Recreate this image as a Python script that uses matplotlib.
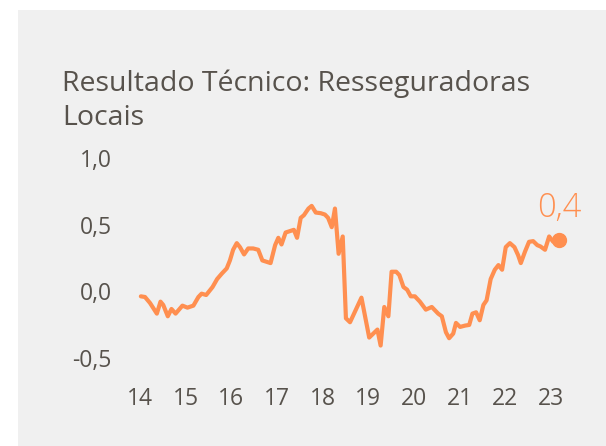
import matplotlib.pyplot as plt
from matplotlib.patches import Rectangle

# Resultado técnico, resseguradoras locais (decimal years, value)
years = [14.02, 14.11, 14.22, 14.37, 14.45, 14.51, 14.61, 14.69, 14.78, 14.93,
         15.04, 15.17, 15.28, 15.35, 15.45, 15.59, 15.69, 15.79, 15.90, 15.97,
         16.04, 16.12, 16.19, 16.28, 16.37, 16.48, 16.59, 16.68, 16.77, 16.86,
         16.96, 17.03, 17.10, 17.19, 17.28, 17.37, 17.44, 17.52, 17.59, 17.69,
         17.76, 17.85, 17.96, 18.05, 18.12, 18.20, 18.27, 18.35, 18.44, 18.51,
         18.60, 18.85, 19.02, 19.11, 19.20, 19.27, 19.35, 19.44, 19.51, 19.61,
         19.68, 19.77, 19.85, 19.93, 20.02, 20.13, 20.26, 20.39, 20.53, 20.61,
         20.70, 20.77, 20.86, 20.92, 21.01, 21.12, 21.21, 21.28, 21.36, 21.44,
         21.52, 21.59, 21.68, 21.77, 21.85, 21.93, 22.01, 22.10, 22.20, 22.28,
         22.34, 22.43, 22.52, 22.61, 22.70, 22.77, 22.87, 22.96, 23.05, 23.18]
values = [-0.04, -0.045, -0.09, -0.17, -0.08, -0.105, -0.19, -0.135, -0.17, -0.11,
          -0.125, -0.11, -0.045, -0.02, -0.03, 0.03, 0.09, 0.13, 0.17, 0.23,
          0.31, 0.36, 0.33, 0.275, 0.32, 0.32, 0.31, 0.23, 0.22, 0.21,
          0.345, 0.40, 0.35, 0.44, 0.45, 0.46, 0.40, 0.55, 0.57, 0.62,
          0.64, 0.59, 0.585, 0.575, 0.55, 0.48, 0.62, 0.28, 0.41, -0.205,
          -0.235, -0.05, -0.35, -0.32, -0.29, -0.41, -0.12, -0.19, 0.145, 0.145,
          0.12, 0.03, 0.01, -0.04, -0.04, -0.08, -0.14, -0.12, -0.17, -0.19,
          -0.31, -0.355, -0.32, -0.24, -0.27, -0.26, -0.255, -0.17, -0.16, -0.22,
          -0.105, -0.07, 0.09, 0.16, 0.195, 0.16, 0.33, 0.36, 0.33, 0.27,
          0.21, 0.295, 0.37, 0.375, 0.345, 0.335, 0.31, 0.41, 0.37, 0.38]

x_ticks = [14, 15, 16, 17, 18, 19, 20, 21, 22, 23]
y_ticks = [-0.5, 0.0, 0.5, 1.0]
y_labels = ["-0,5", "0,0", "0,5", "1,0"]

title = "Resultado Técnico: Resseguradoras\nLocais"
last_label = "0,4"

orange = "#ff8f50"
text_grey = "#57524c"
panel = "#f0f0f0"

plt.rcParams['font.family'] = ['Open Sans', 'DejaVu Sans']

fig = plt.figure(figsize=(6.06, 4.46), dpi=100)
fig.patch.set_facecolor("white")
fig.patches.append(Rectangle((18 / 606, 0), 1 - 18 / 606, 1 - 10 / 446,
                             transform=fig.transFigure, facecolor=panel,
                             edgecolor="none", zorder=-5))

ax = fig.add_axes([0.2008, 0.1686, 0.7536, 0.492])
ax.set_zorder(2)
ax.set_facecolor("none")
ax.plot(years, values, color=orange, linewidth=3, solid_joinstyle="round",
        solid_capstyle="round", zorder=3)
ax.plot(years[-1], values[-1], "o", color=orange, markersize=10, zorder=4)
ax.annotate(last_label, (years[-1], values[-1]), xytext=(0, 11),
            textcoords="offset points", ha="center", va="bottom",
            fontsize=23.5, color=orange, fontweight="light")

ax.set_xlim(13.6, 23.6)
ax.set_ylim(-0.6, 1.05)
ax.set_xticks(x_ticks)
ax.set_xticklabels([str(v) for v in x_ticks])
ax.set_yticks(y_ticks)
ax.set_yticklabels(y_labels)
ax.tick_params(axis="both", length=0, labelsize=16.5, colors=text_grey)
ax.tick_params(axis="x", pad=12)
ax.tick_params(axis="y", pad=7)
for s in ax.spines.values():
    s.set_visible(False)

fig.text(62 / 606, 1 - 70 / 446, title, fontsize=20.5, color=text_grey,
         ha="left", va="top", linespacing=1.25)

fig.savefig("out.png", dpi=100, facecolor=fig.get_facecolor())
